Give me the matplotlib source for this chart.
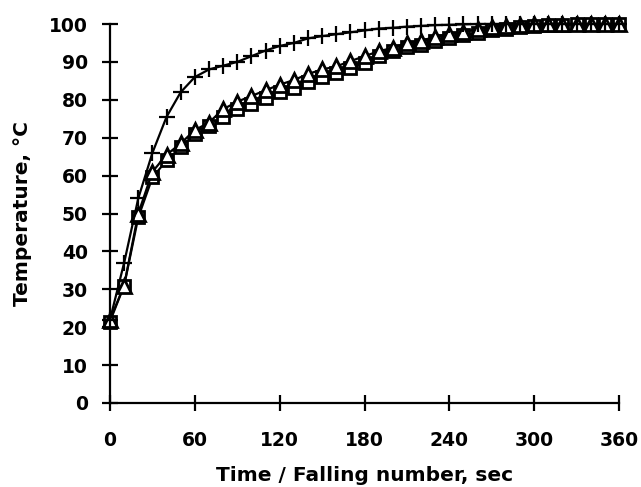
import numpy as np
import matplotlib
matplotlib.use("Agg")
import matplotlib.pyplot as plt

plt.rcParams['font.family'] = ['DejaVu Sans']

# readings every 10 s
time_s = np.arange(0, 361, 10)
temp_plus = [22, 37, 54, 66, 75.5, 82, 86, 88, 89, 90, 91.5, 93, 94.2, 95, 96.2,
             96.8, 97.3, 97.8, 98.3, 98.8, 99, 99.3, 99.5, 99.7, 99.8, 99.9, 100,
             100, 100, 100, 100, 100, 100, 100, 100, 100, 100]
temp_tri = [22, 31, 50, 61, 65.5, 68.5, 72, 74, 77.5, 79.5, 81, 82.5, 84, 85.2,
            86.8, 88, 88.8, 90.2, 91.5, 92.8, 93.7, 95, 95.5, 96.7, 97.3, 98, 98.6,
            99.3, 99.6, 99.8, 100, 100, 100, 100, 100, 100, 100]
temp_sq = [21.5, 31, 49, 59.5, 64, 67.5, 71, 73, 75.5, 77.5, 79, 80.6, 82, 83,
           84.6, 86, 87, 88.5, 89.8, 91.5, 92.8, 94, 94.5, 95.5, 96.3, 97, 97.6,
           98.3, 98.8, 99.2, 99.5, 99.7, 99.8, 99.9, 100, 100, 100]

xticks = [0, 60, 120, 180, 240, 300, 360]
yticks = list(range(0, 101, 10))

fig = plt.figure(figsize=(6.41, 4.87), dpi=100)
ax = fig.add_axes([110 / 641, 1 - 403 / 487, 509 / 641, 379 / 487])

ax.plot(time_s, temp_sq, color='black', lw=1.6, marker='s', ms=9,
        mfc='white', mec='black', mew=2, clip_on=False, zorder=3)
ax.plot(time_s, temp_tri, color='black', lw=1.6, marker='^', ms=10,
        mfc='white', mec='black', mew=2, clip_on=False, zorder=4)
ax.plot(time_s, temp_plus, color='black', lw=1.6, marker='+', ms=11,
        mew=1.6, clip_on=False, zorder=5)

ax.set_xlim(0, 360)
ax.set_ylim(0, 100)
ax.set_xticks(xticks)
ax.set_yticks(yticks)
for side in ('top', 'right'):
    ax.spines[side].set_visible(False)
for side in ('left', 'bottom'):
    ax.spines[side].set_linewidth(1.6)
ax.tick_params(direction='inout', length=12, width=1.6, labelsize=13.5)
ax.tick_params(axis='y', pad=10)
ax.tick_params(axis='x', pad=14)
for lab in ax.get_xticklabels() + ax.get_yticklabels():
    lab.set_fontweight('bold')

ax.set_xlabel('Time / Falling number, sec', fontsize=14.5, fontweight='bold', labelpad=12)
ax.set_ylabel('Temperature, \u00b0C', fontsize=14.5, fontweight='bold', labelpad=12)

fig.savefig('out.png', dpi=100)
